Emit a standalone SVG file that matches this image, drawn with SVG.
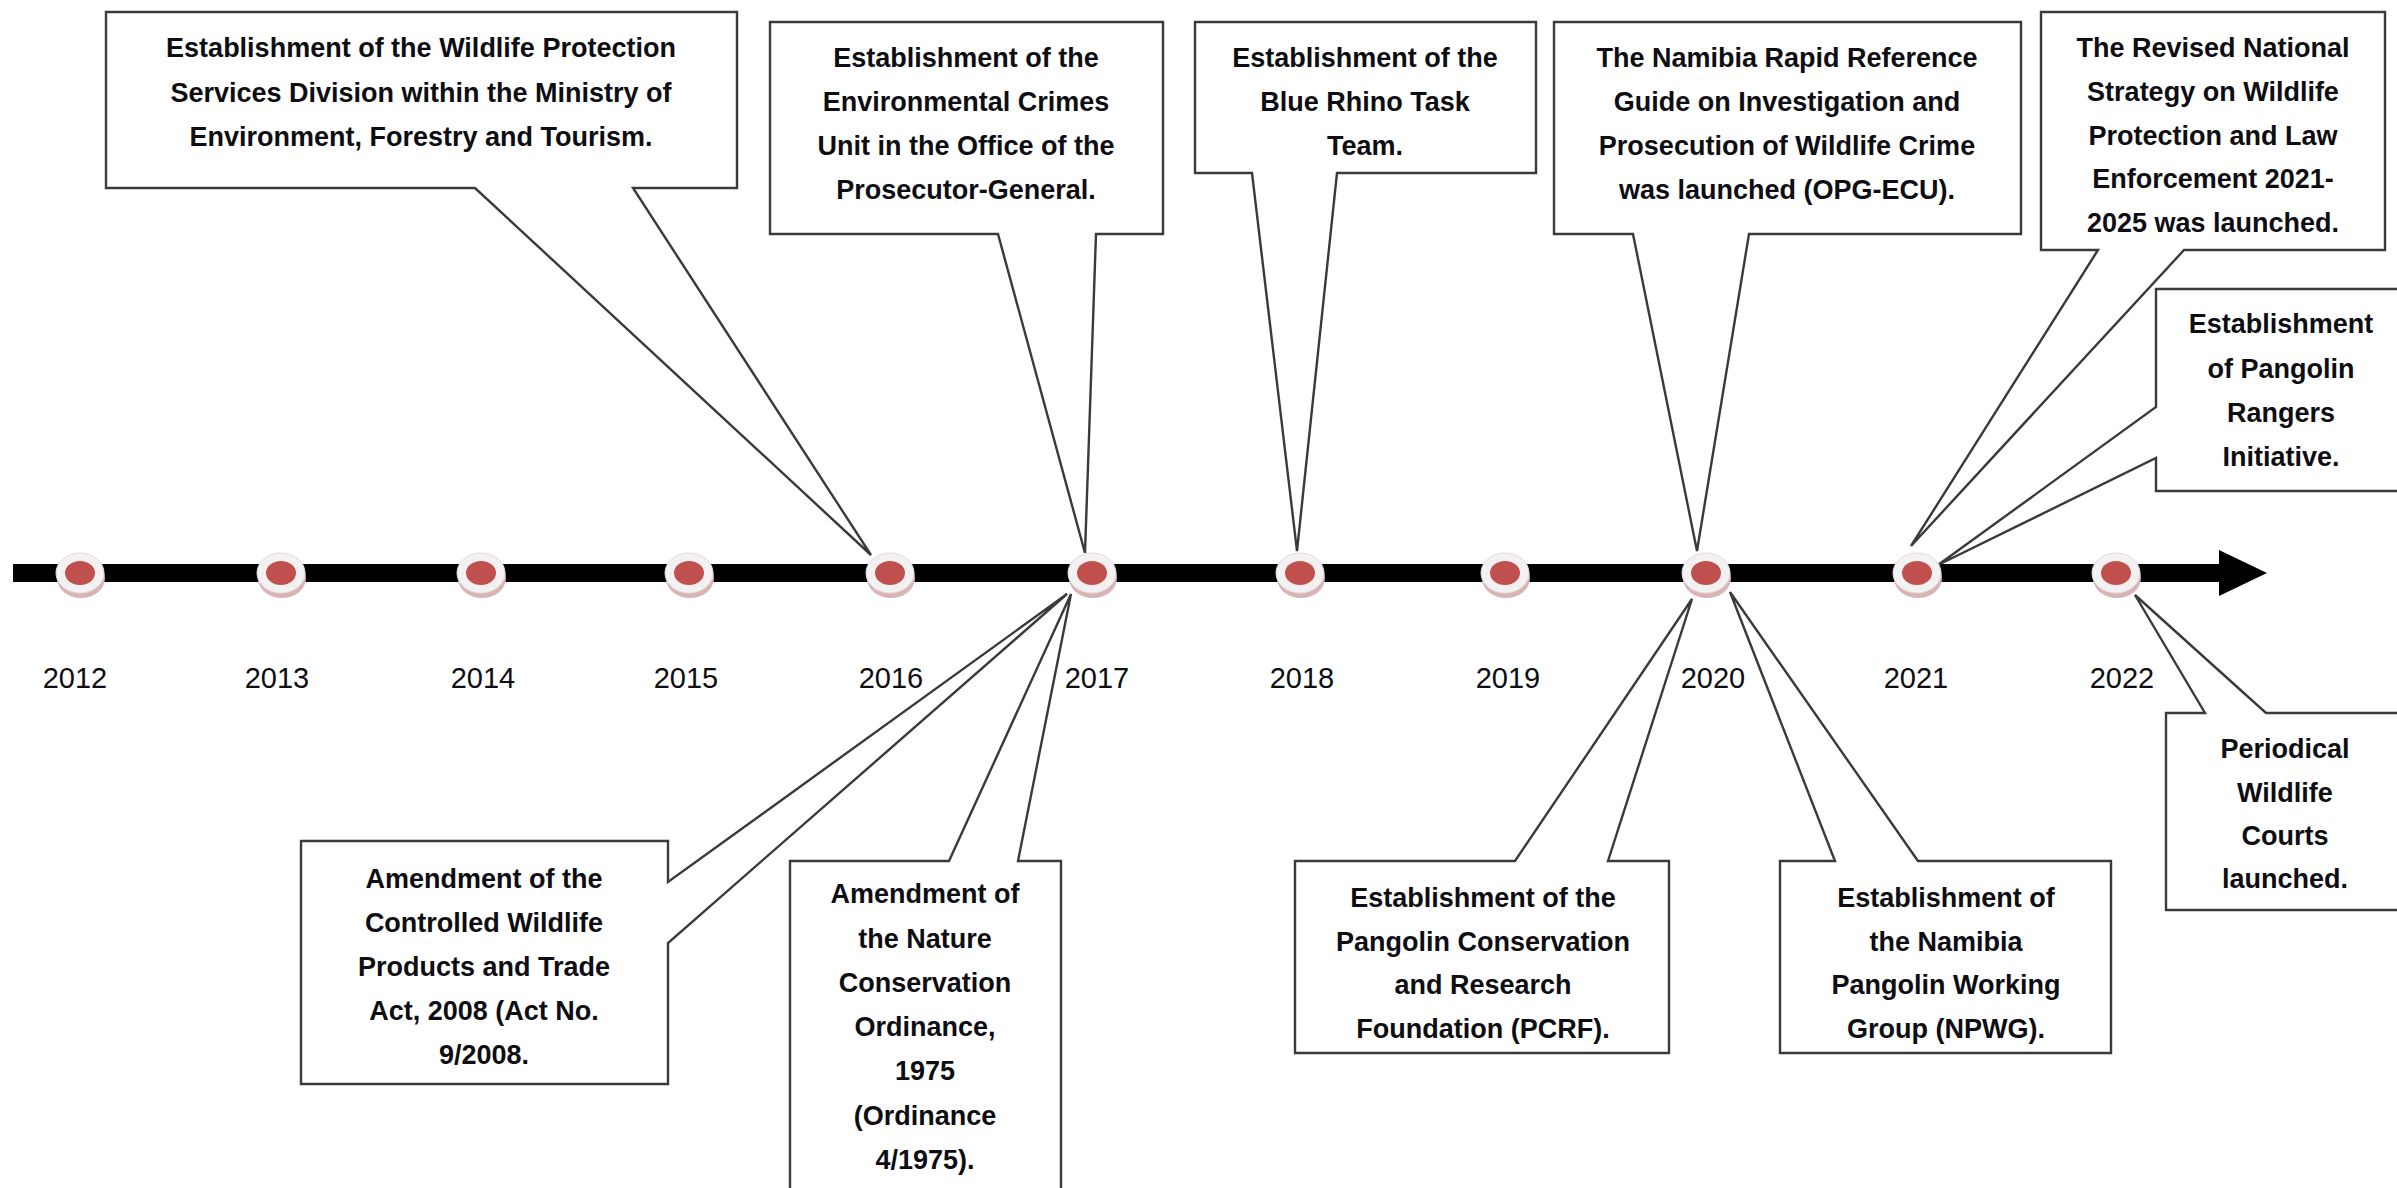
<svg xmlns="http://www.w3.org/2000/svg" width="2397" height="1188" viewBox="0 0 2397 1188">
<defs>
<style>
.box{fill:#ffffff;stroke:#3a3a3a;stroke-width:2.4;stroke-linejoin:miter}
.t{font-family:"Liberation Sans",Arial,sans-serif;font-weight:bold;font-size:27px;fill:#0d0d12;text-anchor:middle}
.yr{font-family:"Liberation Sans",Arial,sans-serif;font-size:29px;fill:#0d0d12;text-anchor:middle}
.sh{fill:#d8b4b4}
.ring{fill:#f3f1f1;stroke:#e2dcdc;stroke-width:1}
.core{fill:#c0504d}
</style>
<g id="dot">
<ellipse class="sh" cx="1" cy="5" rx="24" ry="20"/>
<ellipse class="ring" cx="0" cy="0" rx="24" ry="20"/>
<ellipse class="core" cx="0" cy="0" rx="15" ry="12"/>
</g>
</defs>
<rect width="2397" height="1188" fill="#ffffff"/>

<g id="timeline">
<rect x="13" y="564" width="2210" height="18" fill="#000000"/>
<polygon points="2219,550 2267,573 2219,596" fill="#000000"/>
</g>

<g id="connectors">
<!-- callout tails are part of each callout shape below -->
</g>

<g id="c2016a">
<path class="box" d="M106,12 H737 V188 H633 L871,555 L475,188 H106 Z"/>
<text class="t" x="421" y="57">Establishment of the Wildlife Protection</text>
<text class="t" x="421" y="101.5">Services Division  within the Ministry of</text>
<text class="t" x="421" y="146">Environment, Forestry and Tourism.</text>
</g>

<g id="c2017a">
<path class="box" d="M770,22 H1163 V234 H1096 L1085,553 L998,234 H770 Z"/>
<text class="t" x="966" y="67">Establishment of the</text>
<text class="t" x="966" y="111">Environmental Crimes</text>
<text class="t" x="966" y="155">Unit in the Office of the</text>
<text class="t" x="966" y="199">Prosecutor-General.</text>
</g>

<g id="c2018">
<path class="box" d="M1195,22 H1536 V173 H1337 L1297,551 L1252,173 H1195 Z"/>
<text class="t" x="1365" y="67">Establishment of the</text>
<text class="t" x="1365" y="111">Blue Rhino Task</text>
<text class="t" x="1365" y="155">Team.</text>
</g>

<g id="c2020a">
<path class="box" d="M1554,22 H2021 V234 H1749 L1697,551 L1633,234 H1554 Z"/>
<text class="t" x="1787" y="67">The Namibia Rapid Reference</text>
<text class="t" x="1787" y="111">Guide on Investigation and</text>
<text class="t" x="1787" y="155">Prosecution of Wildlife Crime</text>
<text class="t" x="1787" y="199">was launched (OPG-ECU).</text>
</g>

<g id="c2021a">
<path class="box" d="M2041,12 H2385 V250 H2184 L1911,546 L2098,250 H2041 Z"/>
<text class="t" x="2213" y="57">The Revised National</text>
<text class="t" x="2213" y="101">Strategy on Wildlife</text>
<text class="t" x="2213" y="145">Protection and Law</text>
<text class="t" x="2213" y="188">Enforcement 2021-</text>
<text class="t" x="2213" y="232">2025 was launched.</text>
</g>

<g id="c2021b">
<path class="box" d="M2156,289 H2402 V491 H2156 V458 L1938,565 L2156,407 Z"/>
<text class="t" x="2281" y="333">Establishment</text>
<text class="t" x="2281" y="377.5">of Pangolin</text>
<text class="t" x="2281" y="422">Rangers</text>
<text class="t" x="2281" y="466">Initiative.</text>
</g>

<g id="c2017b">
<path class="box" d="M301,841 H668 V882 L1067,594 L668,943 V1084 H301 Z"/>
<text class="t" x="484" y="888">Amendment of the</text>
<text class="t" x="484" y="932">Controlled Wildlife</text>
<text class="t" x="484" y="976">Products and Trade</text>
<text class="t" x="484" y="1020">Act, 2008 (Act No.</text>
<text class="t" x="484" y="1064">9/2008.</text>
</g>

<g id="c2017c">
<path class="box" d="M790,861 H949 L1071,594 L1018,861 H1061 V1200 H790 Z"/>
<text class="t" x="925" y="903">Amendment of</text>
<text class="t" x="925" y="947.5">the Nature</text>
<text class="t" x="925" y="992">Conservation</text>
<text class="t" x="925" y="1036">Ordinance,</text>
<text class="t" x="925" y="1080">1975</text>
<text class="t" x="925" y="1125">(Ordinance</text>
<text class="t" x="925" y="1169">4/1975).</text>
</g>

<g id="c2020b">
<path class="box" d="M1295,861 H1515 L1692,599 L1608,861 H1669 V1053 H1295 Z"/>
<text class="t" x="1483" y="907">Establishment of the</text>
<text class="t" x="1483" y="950.5">Pangolin Conservation</text>
<text class="t" x="1483" y="994">and Research</text>
<text class="t" x="1483" y="1037.5">Foundation (PCRF).</text>
</g>

<g id="c2020c">
<path class="box" d="M1780,861 H1835 L1730,592 L1918,861 H2111 V1053 H1780 Z"/>
<text class="t" x="1946" y="907">Establishment of</text>
<text class="t" x="1946" y="950.5">the Namibia</text>
<text class="t" x="1946" y="994">Pangolin Working</text>
<text class="t" x="1946" y="1037.5">Group (NPWG).</text>
</g>

<g id="c2022">
<path class="box" d="M2166,713 H2205 L2135,595 L2266,713 H2402 V910 H2166 Z"/>
<text class="t" x="2285" y="758">Periodical</text>
<text class="t" x="2285" y="802">Wildlife</text>
<text class="t" x="2285" y="845">Courts</text>
<text class="t" x="2285" y="888">launched.</text>
</g>

<g id="y2012"><use href="#dot" x="80" y="573"/><text class="yr" x="75" y="688">2012</text></g>
<g id="y2013"><use href="#dot" x="281" y="573"/><text class="yr" x="277" y="688">2013</text></g>
<g id="y2014"><use href="#dot" x="481" y="573"/><text class="yr" x="483" y="688">2014</text></g>
<g id="y2015"><use href="#dot" x="689" y="573"/><text class="yr" x="686" y="688">2015</text></g>
<g id="y2016"><use href="#dot" x="890" y="573"/><text class="yr" x="891" y="688">2016</text></g>
<g id="y2017"><use href="#dot" x="1092" y="573"/><text class="yr" x="1097" y="688">2017</text></g>
<g id="y2018"><use href="#dot" x="1300" y="573"/><text class="yr" x="1302" y="688">2018</text></g>
<g id="y2019"><use href="#dot" x="1505" y="573"/><text class="yr" x="1508" y="688">2019</text></g>
<g id="y2020"><use href="#dot" x="1706" y="573"/><text class="yr" x="1713" y="688">2020</text></g>
<g id="y2021"><use href="#dot" x="1917" y="573"/><text class="yr" x="1916" y="688">2021</text></g>
<g id="y2022"><use href="#dot" x="2116" y="573"/><text class="yr" x="2122" y="688">2022</text></g>
</svg>
